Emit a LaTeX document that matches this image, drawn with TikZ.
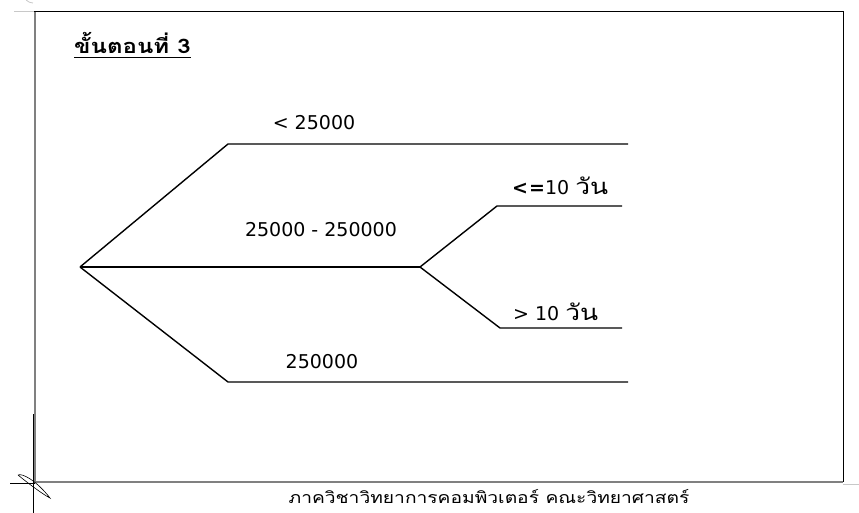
\documentclass[tikz,border=0pt]{standalone}
\usepackage{fontspec}
\setmainfont{DejaVu Sans}
\newfontfamily\thaifont[Script=Thai,FakeStretch=1.2]{Loma}
\newcommand{\thaiword}[1]{{\fontsize{22}{24}\selectfont\thaifont #1}}
\begin{document}
\begin{tikzpicture}[x=1pt,y=-1pt]
    \definecolor{frameGray}{HTML}{808080}
    \definecolor{markGray}{HTML}{C8C8C8}
    \tikzset{
        branch/.style={line width=1.4pt},
        lbl/.style={font=\fontsize{19}{22}\selectfont, inner sep=0pt},
    }
    \useasboundingbox (0,0) rectangle (859,513);

    % Draw page frame
    \draw[markGray, line width=0.8pt] (14,11) -- (34,11);
    \draw[markGray, line width=0.8pt] (33,3) arc[start angle=90, end angle=230, radius=9];
    \draw[black, line width=1pt] (34,12) -- (843,12) -- (843,482);
    \draw[frameGray, line width=2pt] (35,12) -- (35,482) -- (843,482);
    \draw[markGray, line width=0.8pt] (843,484) -- (859,484);
    \draw[black, line width=0.8pt] (33,414) -- (33,513);
    \draw[black, line width=0.8pt] (10,483) -- (35,483);
    \draw[black, line width=0.6pt] (18,475) .. controls (22,473) and (36,480) .. (50,498)
        .. controls (42,494) and (24,480) .. (18,475);

    % Branch points
    \coordinate (root) at (80,267);
    \coordinate (upA) at (228,144);
    \coordinate (upB) at (628,144);
    \coordinate (mid) at (420,267);
    \coordinate (loA) at (228,382);
    \coordinate (loB) at (628,382);
    \coordinate (daysUpA) at (497,206);
    \coordinate (daysUpB) at (622,206);
    \coordinate (daysLoA) at (500,328);
    \coordinate (daysLoB) at (622,328);

    % Draw tree
    \draw[branch] (root) -- (upA) -- (upB);
    \draw[branch] (root) -- (mid);
    \draw[branch] (root) -- (loA) -- (loB);
    \draw[branch] (mid) -- (daysUpA) -- (daysUpB);
    \draw[branch] (mid) -- (daysLoA) -- (daysLoB);

    % Labels
    \node[lbl] (lessLbl) at (314,123) {< 25000};
    \node[lbl] (rangeLbl) at (321,230) {25000 - 250000};
    \node[lbl] (moreLbl) at (322,362) {250000};
    \node[lbl, anchor=west] (shortLbl) at (512,186) {\textbf{<\kern1pt=}10 \thaiword{วัน}};
    \node[lbl, anchor=west] (longLbl) at (513,312) {> 10 \thaiword{วัน}};

    % Title and footer
    \node[font=\fontsize{20}{24}\selectfont\thaifont\bfseries, anchor=west, inner sep=0pt] (title) at (74,43) {ขั้นตอนที่ 3};
    \draw[line width=1.5pt] ([yshift=-4pt]title.base west) -- ([yshift=-4pt]title.base east);
    \node[font=\fontsize{16}{19}\selectfont\thaifont] (footer) at (489,497) {ภาควิชาวิทยาการคอมพิวเตอร์ คณะวิทยาศาสตร์};
\end{tikzpicture}
\end{document}
